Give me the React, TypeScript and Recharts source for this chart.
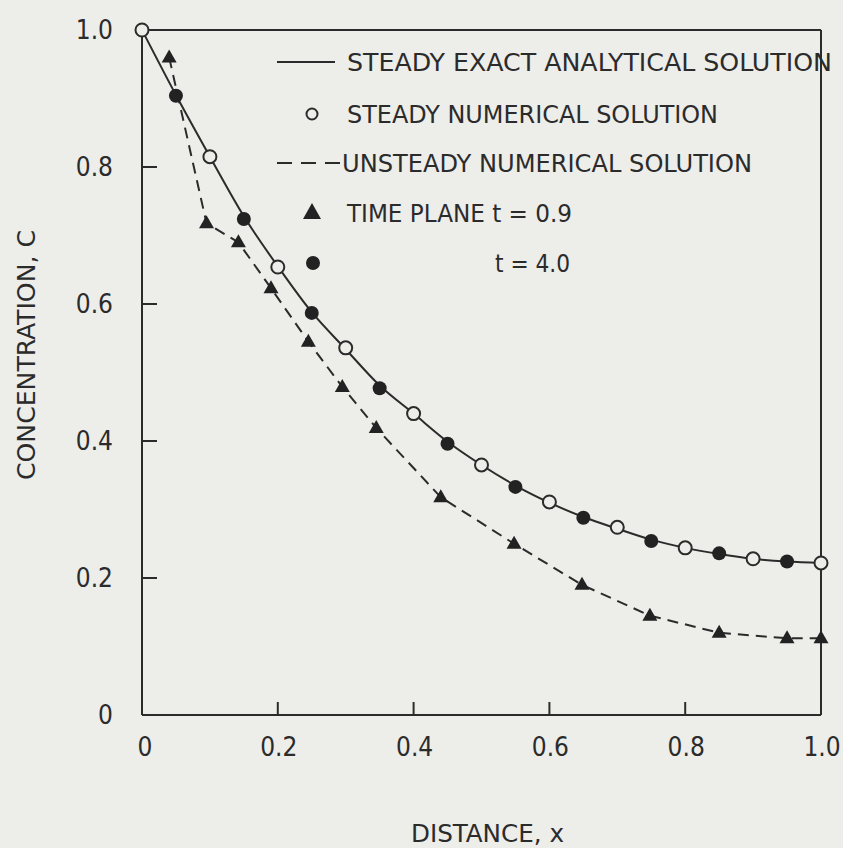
import React from 'react';
import {
  ComposedChart,
  Line,
  Scatter,
  XAxis,
  YAxis,
  ReferenceLine,
  Legend,
} from 'recharts';

// values (distance x, concentration C)
const exactX = [0, 0.05, 0.1, 0.15, 0.2, 0.25, 0.3, 0.35, 0.4, 0.45, 0.5, 0.55, 0.6, 0.65, 0.7, 0.75, 0.8, 0.85, 0.9, 0.95, 1.0];
const exactC = [1.0, 0.905, 0.815, 0.728, 0.655, 0.588, 0.534, 0.481, 0.44, 0.399, 0.365, 0.335, 0.31, 0.289, 0.272, 0.256, 0.244, 0.235, 0.228, 0.224, 0.222];

const steadyX = [0, 0.1, 0.2, 0.3, 0.4, 0.5, 0.6, 0.7, 0.8, 0.9, 1.0];
const steadyC = [1.0, 0.815, 0.654, 0.536, 0.44, 0.365, 0.311, 0.274, 0.244, 0.228, 0.222];

const t09X = [0.04, 0.095, 0.142, 0.19, 0.245, 0.295, 0.345, 0.44, 0.548, 0.648, 0.748, 0.85, 0.95, 1.0];
const t09C = [0.96, 0.718, 0.69, 0.623, 0.545, 0.479, 0.419, 0.318, 0.25, 0.19, 0.145, 0.12, 0.112, 0.112];

const t40X = [0.05, 0.15, 0.25, 0.35, 0.45, 0.55, 0.65, 0.75, 0.85, 0.95];
const t40C = [0.904, 0.724, 0.587, 0.477, 0.396, 0.333, 0.288, 0.254, 0.236, 0.224];

const xTicks = [0, 0.2, 0.4, 0.6, 0.8, 1.0];
const yTicks = [0, 0.2, 0.4, 0.6, 0.8, 1.0];

const legendLabels = [
  'STEADY EXACT ANALYTICAL SOLUTION',
  'STEADY NUMERICAL SOLUTION',
  'UNSTEADY NUMERICAL SOLUTION',
  'TIME PLANE t = 0.9',
  't = 4.0',
];

const toPoints = (xs: number[], cs: number[]) => xs.map((x, i) => ({ x, c: cs[i] }));

const exactData = toPoints(exactX, exactC);
const steadyData = toPoints(steadyX, steadyC);
const t09Data = toPoints(t09X, t09C);
const t40Data = toPoints(t40X, t40C);

const BG = '#ededea';
const INK = '#2b2b2b';
const FONT = "'DejaVu Sans Condensed', 'Liberation Sans Narrow', 'DejaVu Sans', sans-serif";

const fmt = (v: number) => (v === 0 ? '0' : v.toFixed(1));

const XTick = (props: any) => {
  const { x, y, payload } = props;
  const v = payload.value;
  const edge = v === 0 || v === 1;
  return (
    <g>
      {!edge && <line x1={x} y1={y} x2={x} y2={y - 13} stroke={INK} strokeWidth={2} />}
      <text x={x + (v === 0 ? 3 : 1)} y={y + 41} textAnchor="middle" fill={INK} fontFamily={FONT} fontSize={26}>
        {fmt(v)}
      </text>
    </g>
  );
};

const YTick = (props: any) => {
  const { x, y, payload } = props;
  const v = payload.value;
  const edge = v === 0 || v === 1;
  return (
    <g>
      {!edge && <line x1={x} y1={y} x2={x + 15} y2={y} stroke={INK} strokeWidth={2} />}
      <text x={x - 29} y={y + 9} textAnchor="end" fill={INK} fontFamily={FONT} fontSize={26}>
        {fmt(v)}
      </text>
    </g>
  );
};

const XTitle = (props: any) => {
  const vb = props.viewBox;
  return (
    <text
      x={vb.x + vb.width / 2 + 6}
      y={vb.y + 127}
      textAnchor="middle"
      fill={INK}
      fontFamily={FONT}
      fontSize={25}
      textLength={153}
      lengthAdjust="spacingAndGlyphs"
    >
      DISTANCE, x
    </text>
  );
};

const YTitle = (props: any) => {
  const vb = props.viewBox;
  const cx = vb.x + 35;
  const cy = 355;
  return (
    <text
      x={cx}
      y={cy}
      transform={`rotate(-90, ${cx}, ${cy})`}
      textAnchor="middle"
      fill={INK}
      fontFamily={FONT}
      fontSize={25}
      textLength={250}
      lengthAdjust="spacingAndGlyphs"
    >
      CONCENTRATION, C
    </text>
  );
};

const OpenCircle = (props: any) => (
  <circle cx={props.cx} cy={props.cy} r={6.5} fill={BG} stroke={INK} strokeWidth={2} />
);

const FilledCircle = (props: any) => <circle cx={props.cx} cy={props.cy} r={7} fill="#222" />;

const Triangle = (props: any) => {
  const { cx, cy } = props;
  return <polygon points={`${cx},${cy - 8} ${cx - 7.5},${cy + 5} ${cx + 7.5},${cy + 5}`} fill="#222" />;
};

// legend sits inside the plot frame, drawn like the original key
const renderLegend = () => {
  const rows = [62, 114, 163, 213, 263];
  const textStart = [347, 347, 342, 347, 495];
  const textWidth = [485, 371, 410, 225, 75];
  return (
    <svg width={843} height={300} style={{ overflow: 'visible' }}>
      <line x1={277} y1={rows[0]} x2={335} y2={rows[0]} stroke={INK} strokeWidth={2} />
      <circle cx={312} cy={rows[1]} r={5.5} fill={BG} stroke={INK} strokeWidth={2} />
      <line x1={277} y1={rows[2]} x2={340} y2={rows[2]} stroke={INK} strokeWidth={2} strokeDasharray="15 9" />
      <polygon points={`312,${rows[3] - 10} 303,${rows[3] + 6} 321,${rows[3] + 6}`} fill="#222" />
      <circle cx={313} cy={rows[4]} r={7} fill="#222" />
      {legendLabels.map((label, i) => (
        <text
          key={label}
          x={textStart[i]}
          y={rows[i] + 9}
          fill={INK}
          fontFamily={FONT}
          fontSize={24}
          textLength={textWidth[i]}
          lengthAdjust="spacingAndGlyphs"
        >
          {label}
        </text>
      ))}
    </svg>
  );
};

export default function App() {
  return (
    <div style={{ position: 'absolute', left: 0, top: 0, width: 843, height: 848, background: BG }}>
      <ComposedChart width={843} height={848} margin={{ top: 30, right: 22, bottom: 0, left: 0 }}>
        <XAxis
          type="number"
          dataKey="x"
          domain={[0, 1]}
          ticks={xTicks}
          height={133}
          tickSize={0}
          tickMargin={0}
          tick={XTick}
          axisLine={{ stroke: INK, strokeWidth: 2 }}
          tickLine={false}
          label={XTitle}
        />
        <YAxis
          type="number"
          dataKey="c"
          domain={[0, 1]}
          ticks={yTicks}
          width={142}
          tickSize={0}
          tickMargin={0}
          tick={YTick}
          axisLine={{ stroke: INK, strokeWidth: 2 }}
          tickLine={false}
          label={YTitle}
        />
        <ReferenceLine y={1} stroke={INK} strokeWidth={2} />
        <ReferenceLine x={1} stroke={INK} strokeWidth={2} />
        <Legend
          verticalAlign="middle"
          align="center"
          layout="horizontal"
          content={renderLegend}
          wrapperStyle={{ left: 0, top: 0, width: 843, height: 300, pointerEvents: 'none' }}
        />
        <Line
          data={exactData}
          dataKey="c"
          type="monotone"
          stroke={INK}
          strokeWidth={2}
          dot={false}
          activeDot={false}
          isAnimationActive={false}
        />
        <Line
          data={t09Data}
          dataKey="c"
          type="linear"
          stroke={INK}
          strokeWidth={2}
          strokeDasharray="11 7"
          dot={false}
          activeDot={false}
          isAnimationActive={false}
        />
        <Scatter data={steadyData} dataKey="c" shape={OpenCircle} isAnimationActive={false} />
        <Scatter data={t09Data} dataKey="c" shape={Triangle} isAnimationActive={false} />
        <Scatter data={t40Data} dataKey="c" shape={FilledCircle} isAnimationActive={false} />
      </ComposedChart>
    </div>
  );
}
